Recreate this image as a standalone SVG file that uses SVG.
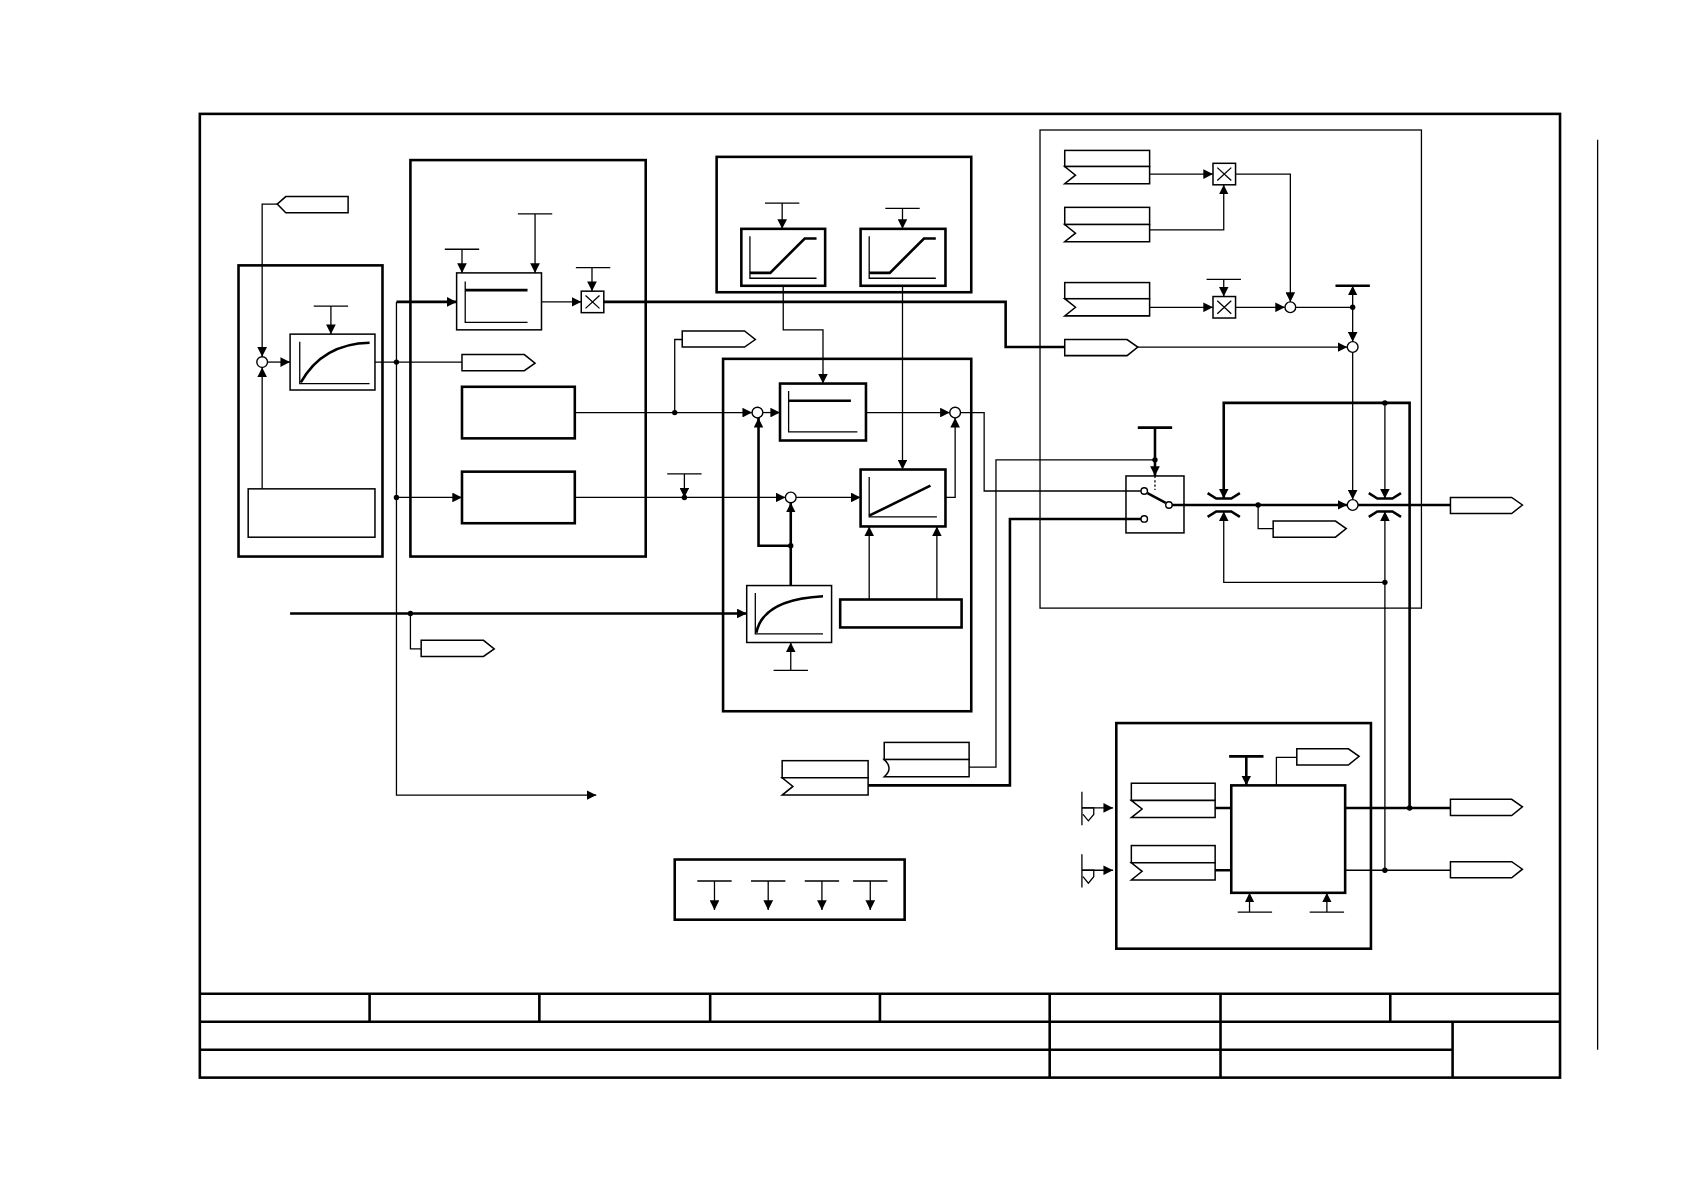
<svg xmlns="http://www.w3.org/2000/svg" width="1684" height="1190" viewBox="0 0 1684 1190">
<defs>
<marker id="a" viewBox="0 0 10 10" refX="10" refY="5" markerWidth="9" markerHeight="9" markerUnits="userSpaceOnUse" orient="auto"><path d="M0,0L10,5L0,10z" fill="#000"/></marker>
</defs>
<style>
.k{fill:none;stroke:#000;stroke-width:2.4}
.t{fill:none;stroke:#000;stroke-width:1.2}
.b{fill:#fff;stroke:#000;stroke-width:1.4}
.B{fill:#fff;stroke:#000;stroke-width:2.4}
.c{fill:#fff;stroke:#000;stroke-width:1.3}
.d{fill:#000}
</style>
<rect width="1684" height="1190" fill="#fff"/>
<g transform="scale(1.0744)">
<g id="frame">
<rect x="186" y="106" width="1266" height="897" class="k"/>
<path class="k" d="M186,925H1452M186,951H1452M186,977H1352M1352,951V1003M977,925V1003M1136,925V1003M344,925V951M502,925V951M661,925V951M819,925V951M1294,925V951"/>
<path class="t" d="M1487,130V977"/>
</g>
<g id="blockA">
<rect x="222" y="247" width="134" height="271" class="k"/>
<rect x="270" y="311" width="79" height="52" class="b"/>
<path class="t" d="M279,318V357H344"/><path class="k" d="M280,356Q300,320 344,319"/>
<path class="t" d="M292,285H324M308,285V311" marker-end="url(#a)"/>
<rect x="231" y="455" width="118" height="45" class="b"/>
<circle cx="244" cy="337" r="5" class="c"/>
<polygon points="258,190 266,183 324,183 324,198 266,198" class="b"/>
</g>
<g id="blockB">
<rect x="382" y="149" width="219" height="369" class="k"/>
<rect x="425" y="254" width="79" height="53" class="b"/>
<path class="t" d="M433,262V300H491"/><path class="k" d="M433,270H491"/>
<rect x="541" y="271" width="21" height="20" class="b"/><path class="t" d="M545,275L558,287M558,275L545,287"/>
<rect x="430" y="360" width="105" height="48" class="B"/>
<rect x="430" y="439" width="105" height="48" class="B"/>
<polygon points="430,330 488,330 498,338 488,345 430,345" class="b"/>
<polygon points="635,308 693,308 703,316 693,323 635,323" class="b"/>
<polygon points="392,596 450,596 460,604 450,611 392,611" class="b"/>
</g>
<g id="blockC">
<rect x="667" y="146" width="237" height="126" class="k"/>
<rect x="690" y="213" width="78" height="53" class="B"/>
<path class="t" d="M698,220V259H760"/><path class="k" d="M698,254H717L749,222H760"/>
<rect x="801" y="213" width="79" height="53" class="B"/>
<path class="t" d="M809,220V259H871"/><path class="k" d="M809,254H828L860,222H871"/>
</g>
<g id="blockD">
<rect x="673" y="334" width="231" height="328" class="k"/>
<rect x="726" y="357" width="80" height="53" class="B"/>
<path class="t" d="M734,364V402H798"/><path class="k" d="M734,373H792"/>
<rect x="801" y="437" width="79" height="53" class="B"/>
<path class="t" d="M809,444V481H872"/><path class="k" d="M809,480L866,452"/>
<rect x="695" y="545" width="79" height="53" class="b"/>
<path class="t" d="M703,552V590H766"/><path class="k" d="M704,589Q710,558 766,555"/>
<rect x="782" y="558" width="113" height="26" class="B"/>
<circle cx="705" cy="384" r="5" class="c"/>
<circle cx="889" cy="384" r="5" class="c"/>
<circle cx="736" cy="463" r="5" class="c"/>
</g>
<g id="tagsMid">
<rect x="823" y="691" width="79" height="16" class="b"/>
<path class="b" d="M823,707H902V723H823Q832,715 823,707Z"/>
<rect x="728" y="708" width="80" height="16" class="b"/>
<polygon class="b" points="728,724 808,724 808,740 728,740 738,732"/>
</g>
<g id="blockE">
<rect x="968" y="121" width="355" height="445" class="t"/>
<rect x="991" y="140" width="79" height="15" class="b"/><polygon class="b" points="991,155 1070,155 1070,171 991,171 1001,163"/>
<rect x="991" y="193" width="79" height="16" class="b"/><polygon class="b" points="991,209 1070,209 1070,225 991,225 1001,217"/>
<rect x="991" y="263" width="79" height="15" class="b"/><polygon class="b" points="991,278 1070,278 1070,294 991,294 1001,286"/>
<polygon points="991,316 1049,316 1059,323 1049,331 991,331" class="b"/>
<rect x="1129" y="152" width="21" height="20" class="b"/><path class="t" d="M1133,156L1146,168M1146,156L1133,168"/>
<rect x="1129" y="276" width="21" height="20" class="b"/><path class="t" d="M1133,280L1146,292M1146,280L1133,292"/>
<circle cx="1201" cy="286" r="5" class="c"/>
<circle cx="1259" cy="323" r="5" class="c"/>
<circle cx="1259" cy="470" r="5" class="c"/>
<rect x="1048" y="443" width="54" height="53" class="b"/>
<path class="t" d="M1075,443V456" stroke-dasharray="2,2"/>
<path class="k" d="M1068,459L1085,468"/>
<circle cx="1065" cy="457" r="3" class="c"/><circle cx="1088" cy="470" r="3" class="c"/><circle cx="1065" cy="483" r="3" class="c"/>
<path class="k" d="M1124,459L1132,464H1146L1154,459M1124,481L1132,476H1146L1154,481M1274,459L1282,464H1296L1304,459M1274,481L1282,476H1296L1304,481"/>
<polygon points="1185,485 1243,485 1253,492 1243,500 1185,500" class="b"/>
<polygon points="1350,463 1407,463 1417,470 1407,478 1350,478" class="b"/>
</g>
<g id="blockF">
<rect x="1039" y="673" width="237" height="210" class="k"/>
<rect x="1146" y="731" width="106" height="100" class="B"/>
<rect x="1053" y="729" width="78" height="16" class="b"/><polygon class="b" points="1053,745 1131,745 1131,761 1053,761 1063,753"/>
<rect x="1053" y="787" width="78" height="16" class="b"/><polygon class="b" points="1053,803 1131,803 1131,819 1053,819 1063,811"/>
<path class="t" d="M1007,737V768M1007,752H1018V758L1013,764L1008,758M1018,752V758M1007,795V826M1007,810H1018V816L1013,822L1008,816M1018,810V816"/>
<polygon points="1207,697 1255,697 1265,704 1255,712 1207,712" class="b"/>
<polygon points="1350,744 1407,744 1417,751 1407,759 1350,759" class="b"/>
<polygon points="1350,802 1407,802 1417,809 1407,817 1350,817" class="b"/>
</g>
<g id="blockG">
<rect x="628" y="800" width="214" height="56" class="k"/>
</g>
<g id="connectors">
<path class="t" d="M258,190H244V332" marker-end="url(#a)"/>
<path class="t" d="M244,455V342" marker-end="url(#a)"/>
<path class="t" d="M249,337H270" marker-end="url(#a)"/>
<path class="t" d="M349,337H430"/>
<path class="t" d="M369,281V740H555" marker-end="url(#a)"/>
<path class="k" d="M369,281H425" marker-end="url(#a)"/>
<path class="t" d="M369,463H430" marker-end="url(#a)"/>
<path class="t" d="M414,232H446M430,232V254" marker-end="url(#a)"/>
<path class="t" d="M482,199H514M498,199V254" marker-end="url(#a)"/>
<path class="t" d="M504,281H541" marker-end="url(#a)"/>
<path class="t" d="M536,249H568M551,249V271" marker-end="url(#a)"/>
<path class="k" d="M562,281H936V323H991"/>
<path class="t" d="M535,384H700" marker-end="url(#a)"/>
<path class="t" d="M628,384V316H635"/>
<path class="t" d="M535,463H731" marker-end="url(#a)"/>
<path class="t" d="M621,441H653M637,441V463" marker-end="url(#a)"/>
<path class="t" d="M712,189H744M728,189V213" marker-end="url(#a)"/>
<path class="t" d="M824,194H856M840,194V213" marker-end="url(#a)"/>
<path class="t" d="M729,266V307H766V357" marker-end="url(#a)"/>
<path class="t" d="M840,266V437" marker-end="url(#a)"/>
<path class="t" d="M710,384H726" marker-end="url(#a)"/>
<path class="t" d="M806,384H884" marker-end="url(#a)"/>
<path class="t" d="M741,463H801" marker-end="url(#a)"/>
<path class="t" d="M880,463H889V389" marker-end="url(#a)"/>
<path class="k" d="M736,545V468" marker-end="url(#a)"/>
<path class="k" d="M736,508H706V389" marker-end="url(#a)"/>
<path class="k" d="M270,571H695" marker-end="url(#a)"/>
<path class="t" d="M382,571V604H392"/>
<path class="t" d="M720,624H752M736,624V598" marker-end="url(#a)"/>
<path class="t" d="M809,558V490" marker-end="url(#a)"/>
<path class="t" d="M872,558V490" marker-end="url(#a)"/>
<path class="t" d="M894,384H916V457H1062"/>
<path class="t" d="M902,714H927V428H1075"/>
<path class="k" d="M808,731H940V483H1062"/>
<path class="t" d="M1070,162H1129" marker-end="url(#a)"/>
<path class="t" d="M1070,214H1139V172" marker-end="url(#a)"/>
<path class="t" d="M1150,162H1201V281" marker-end="url(#a)"/>
<path class="t" d="M1123,260H1155M1139,260V276" marker-end="url(#a)"/>
<path class="t" d="M1070,286H1129" marker-end="url(#a)"/>
<path class="t" d="M1150,286H1196" marker-end="url(#a)"/>
<path class="t" d="M1206,286H1259"/>
<path class="k" d="M1243,266H1275"/>
<path class="t" d="M1259,286V266" marker-end="url(#a)"/>
<path class="t" d="M1259,286V318" marker-end="url(#a)"/>
<path class="t" d="M1059,323H1254" marker-end="url(#a)"/>
<path class="t" d="M1259,328V465" marker-end="url(#a)"/>
<path class="k" d="M1059,398H1091"/>
<path class="k" d="M1075,398V443" marker-end="url(#a)"/>
<path class="k" d="M1091,470H1254" marker-end="url(#a)"/>
<path class="t" d="M1171,470V492H1185"/>
<path class="k" d="M1312,752V375H1139V464" marker-end="url(#a)"/>
<path class="t" d="M1289,375V464" marker-end="url(#a)"/>
<path class="t" d="M1289,542H1139V476" marker-end="url(#a)"/>
<path class="t" d="M1289,810V476" marker-end="url(#a)"/>
<path class="k" d="M1264,470H1350"/>
<path class="t" d="M1007,752H1036" marker-end="url(#a)"/>
<path class="t" d="M1007,810H1036" marker-end="url(#a)"/>
<path class="k" d="M1131,752H1146M1131,810H1146"/>
<path class="k" d="M1144,704H1176M1160,704V731" marker-end="url(#a)"/>
<path class="t" d="M1188,731V705H1207"/>
<path class="t" d="M1152,849H1184M1163,849V831" marker-end="url(#a)"/>
<path class="t" d="M1219,849H1251M1235,849V831" marker-end="url(#a)"/>
<path class="k" d="M1252,752H1350"/>
<path class="t" d="M1252,810H1350"/>
<path class="t" d="M649,820H681M665,820V847" marker-end="url(#a)"/>
<path class="t" d="M699,820H731M715,820V847" marker-end="url(#a)"/>
<path class="t" d="M749,820H781M765,820V847" marker-end="url(#a)"/>
<path class="t" d="M794,820H826M810,820V847" marker-end="url(#a)"/>
<g class="d">
<circle cx="369" cy="337" r="2.5"/><circle cx="369" cy="463" r="2.5"/><circle cx="382" cy="571" r="2.5"/>
<circle cx="628" cy="384" r="2.5"/><circle cx="637" cy="463" r="2.5"/><circle cx="736" cy="508" r="2.5"/>
<circle cx="1259" cy="286" r="2.5"/><circle cx="1075" cy="428" r="2.5"/><circle cx="1171" cy="470" r="2.5"/>
<circle cx="1289" cy="375" r="2.5"/><circle cx="1289" cy="542" r="2.5"/><circle cx="1312" cy="752" r="2.5"/><circle cx="1289" cy="810" r="2.5"/>
</g>
</g>
</g>
</svg>
